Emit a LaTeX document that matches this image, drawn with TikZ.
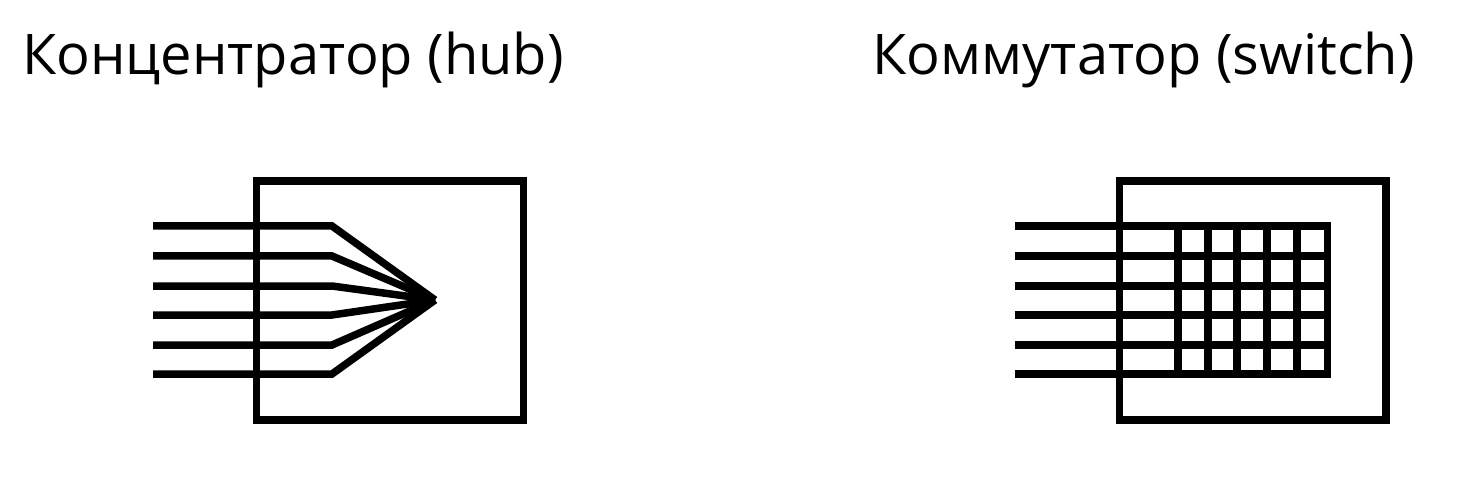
\documentclass[tikz,border=0pt]{standalone}
\usepackage{fontspec}
\setmainfont{Open Sans}
\begin{document}
\begin{tikzpicture}[x=1pt,y=-1pt,
  wire/.style={line width=7.5pt, line cap=butt, line join=miter},
  frame/.style={line width=7.5pt},
  title/.style={anchor=base west, inner sep=0pt, font=\fontsize{56}{60}\selectfont}]
\useasboundingbox (0,0) rectangle (1482,494);
% titles
\node[title] (hubt) at (22,75) {Концентратор (hub)};
\node[title] (swt) at (872,75) {Коммутатор (switch)};
% hub
\draw[frame] (256.5,181) rectangle (523.5,420);
\coordinate (hp) at (435,300);
\foreach \y in {226,256,286,315,345,374}
  \draw[wire] (153,\y) -- (332,\y) -- (hp);
% switch
\draw[frame] (1119.5,181) rectangle (1386,420);
\foreach \y in {226,256,286,315,345,374}
  \draw[wire] (1015,\y) -- (1331,\y);
\foreach \x in {1178,1208,1237,1267,1297,1327.5}
  \draw[wire] (\x,222.5) -- (\x,377.5);
\end{tikzpicture}
\end{document}
